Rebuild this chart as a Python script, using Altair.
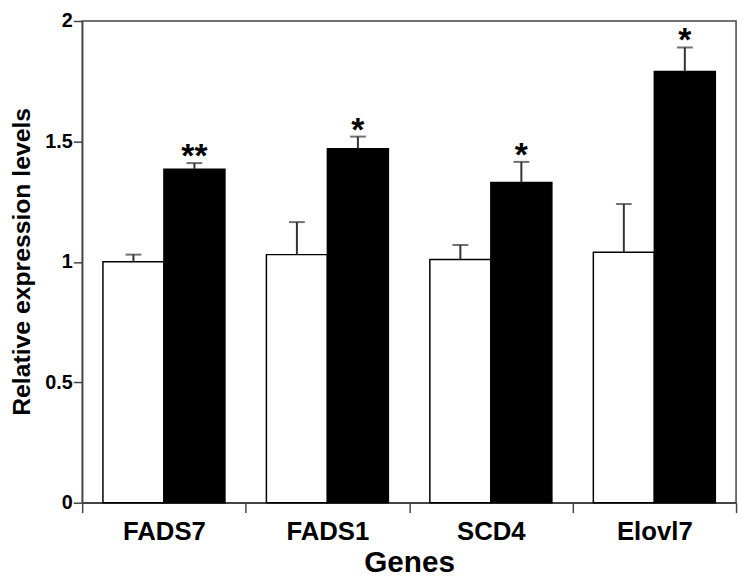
import altair as alt
import pandas as pd

genes = ["FADS7", "FADS1", "SCD4", "Elovl7"]
groups = ["Control", "Treated"]
control_vals = [1.00, 1.03, 1.01, 1.04]
control_err = [0.03, 0.135, 0.06, 0.20]
treated_vals = [1.385, 1.47, 1.33, 1.79]
treated_err = [0.025, 0.05, 0.085, 0.10]
sig_labels = ["**", "*", "*", "*"]

rows = []
for i, g in enumerate(genes):
    rows.append({"gene": g, "group": groups[0], "value": control_vals[i],
                 "top": control_vals[i] + control_err[i], "sig": ""})
    rows.append({"gene": g, "group": groups[1], "value": treated_vals[i],
                 "top": treated_vals[i] + treated_err[i], "sig": sig_labels[i]})
df = pd.DataFrame(rows)

FONT = "Liberation Sans"
AX = "#444444"

x = alt.X("gene:N", sort=genes,
          scale=alt.Scale(paddingInner=0, paddingOuter=0),
          axis=alt.Axis(title="Genes", labelAngle=0, labelFontSize=26, labelFontWeight="bold",
                        labelFont=FONT, labelColor="black", labelBaseline="alphabetic",
                        labelPadding=27, tickBand="extent", tickSize=10, tickWidth=1.5,
                        tickColor=AX, domainColor=AX, domainWidth=1.5,
                        titleFontSize=30, titleFont=FONT, titleFontWeight="bold",
                        titleColor="black", titleBaseline="alphabetic", titleY=70))
xo = alt.XOffset("group:N", sort=groups,
                 scale=alt.Scale(paddingInner=0, paddingOuter=0.34))
y_axis = alt.Axis(title="Relative expression levels", values=[0, 0.5, 1, 1.5, 2],
                  labelExpr="datum.value == 0 ? '0' : format(datum.value, '')",
                  labelFontSize=20, labelFontWeight="bold", labelFont=FONT, labelColor="black",
                  labelPadding=1, tickSize=9, tickWidth=1.5, tickColor=AX, domainColor=AX,
                  domainWidth=1.5, grid=False,
                  titleFontSize=25, titleFont=FONT, titleFontWeight="bold", titleColor="black",
                  titleAngle=270, titleX=-61, titleY=243, titleAlign="center",
                  titleBaseline="middle")
y = alt.Y("value:Q", scale=alt.Scale(domain=[0, 2], nice=False), axis=y_axis)

base = alt.Chart(df)

bars = base.mark_bar(stroke="black", strokeWidth=1.5).encode(
    x=x, xOffset=xo, y=y,
    fill=alt.Fill("group:N", scale=alt.Scale(domain=groups, range=["white", "black"]), legend=None),
)

err_line = base.mark_rule(color="#333333", strokeWidth=2).encode(
    x=x, xOffset=xo, y="value:Q", y2="top:Q")

caps = base.mark_tick(color="#333333", thickness=2, size=16).encode(
    x=x, xOffset=xo, y="top:Q")

stars = base.mark_text(fontSize=34, fontWeight="bold", font=FONT, color="black",
                       baseline="alphabetic", dy=4).encode(
    x=x, xOffset=xo, y="top:Q", text="sig:N")

chart = alt.layer(bars, err_line, caps, stars).properties(
    width=661, height=487,
    autosize=alt.AutoSizeParams(type="none"),
    padding={"left": 75, "top": 10, "right": 6, "bottom": 76},
).configure_view(stroke=AX, strokeWidth=1.5)

chart.save("out.html", embed_options={"renderer": "svg", "actions": False})
